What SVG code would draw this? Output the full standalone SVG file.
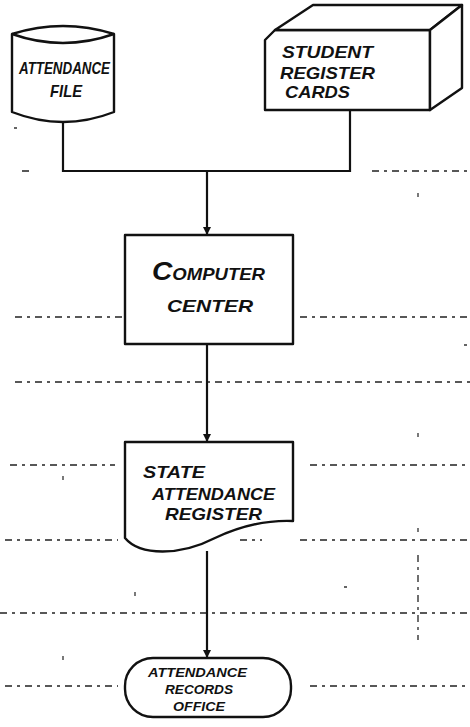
<svg xmlns="http://www.w3.org/2000/svg" width="470" height="727" viewBox="0 0 470 727">
<style>
.shape{fill:#fff;stroke:#111;stroke-width:2.4;stroke-linejoin:round}
.edge{fill:none;stroke:#111;stroke-width:2.2}
.bg{fill:none;stroke:#222;stroke-width:1.3;stroke-dasharray:7 5 3 5}
.tick{fill:none;stroke:#333;stroke-width:1.3}
text{font-family:"Liberation Sans",Arial,sans-serif;font-style:italic;font-weight:bold;fill:#111;font-size:16.5px}
.small{font-size:13px}
</style>
<defs>
<marker id="arrd" markerWidth="10" markerHeight="10" refX="5" refY="9" orient="0" markerUnits="userSpaceOnUse" viewBox="0 0 10 10">
<path d="M1,1 L9,1 L5,9 Z" fill="#111"/>
</marker>
</defs>

<g id="background">
<path class="bg" d="M22,171 H30 M372,171 H470 M15,317 H148 M300,317 H470 M15,382 H470 M10,465 H115 M310,465 H470 M5,540 H118 M240,540 H262 M300,540 H470 M0,613 H470 M5,686 H118 M310,686 H470"/>
<path class="bg" d="M418,555 V640"/>
<path class="tick" d="M418,193 v4 M418,433 v4 M418,528 v4 M63,476 v4 M135,592 v4 M63,656 v4 M344,587 h3 M464,345 h3 M14,128 h3"/>
</g>

<g id="connectors">
<path class="edge" d="M63,123 V171 H350 V110"/>
<path class="edge" d="M207,171 V235" marker-end="url(#arrd)"/>
<path class="edge" d="M207,344 V442" marker-end="url(#arrd)"/>
<path class="edge" d="M207,551 V658" marker-end="url(#arrd)"/>
</g>

<g id="attendance-file">
<path class="shape" d="M12,34 Q63,18 114,34 L114,112 Q63,132 12,112 Z"/>
<path class="shape" fill="none" d="M12,34 Q63,52 114,34"/>
<text x="19" y="74" textLength="91" lengthAdjust="spacingAndGlyphs">ATTENDANCE</text>
<text x="50" y="97" textLength="32" lengthAdjust="spacingAndGlyphs">FILE</text>
</g>

<g id="student-register-cards">
<path class="shape" d="M265,40 L275,30 L430,30 L430,110 L265,110 Z"/>
<path class="shape" d="M275,30 L313,5 L462,5 L430,30 Z"/>
<path class="shape" d="M430,30 L462,5 L462,88 L430,110 Z"/>
<text x="282" y="58" textLength="91" lengthAdjust="spacingAndGlyphs">STUDENT</text>
<text x="280" y="79" textLength="95" lengthAdjust="spacingAndGlyphs">REGISTER</text>
<text x="285" y="98" textLength="65" lengthAdjust="spacingAndGlyphs">CARDS</text>
</g>

<g id="computer-center">
<rect class="shape" x="125" y="235" width="168" height="109"/>
<text x="152" y="280" textLength="113" lengthAdjust="spacingAndGlyphs"><tspan font-size="25">C</tspan>OMPUTER</text>
<text x="167" y="312" textLength="86" lengthAdjust="spacingAndGlyphs">CENTER</text>
</g>

<g id="state-attendance-register">
<path class="shape" d="M125,442 L293,442 L293,521 C270,520 245,524 215,538 C180,556 140,556 125,538 Z"/>
<text x="143" y="478" textLength="62" lengthAdjust="spacingAndGlyphs">STATE</text>
<text x="152" y="500" textLength="123" lengthAdjust="spacingAndGlyphs">ATTENDANCE</text>
<text x="165" y="520" textLength="97" lengthAdjust="spacingAndGlyphs">REGISTER</text>
</g>

<g id="attendance-records-office">
<rect class="shape" x="125" y="658" width="166" height="59" rx="28" ry="28"/>
<text class="small" x="148" y="677" textLength="99" lengthAdjust="spacingAndGlyphs">ATTENDANCE</text>
<text class="small" x="165" y="694" textLength="68" lengthAdjust="spacingAndGlyphs">RECORDS</text>
<text class="small" x="173" y="711" textLength="52" lengthAdjust="spacingAndGlyphs">OFFICE</text>
</g>
</svg>
